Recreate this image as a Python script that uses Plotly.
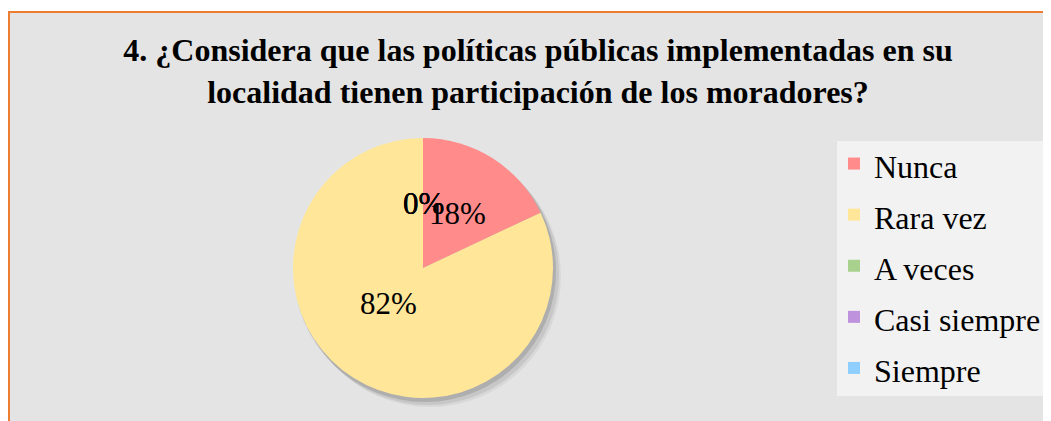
import math
import plotly.graph_objects as go

#===========================================================================================================#

labels = ["Nunca", "Rara vez", "A veces", "Casi siempre", "Siempre"]
values = [18, 82, 0, 0, 0]
colors = ["rgb(255, 139, 139)", "rgb(255, 230, 153)", "rgb(169, 209, 142)",
          "rgb(191, 146, 222)", "rgb(143, 207, 255)"]
title = "4. ¿Considera que las políticas públicas implementadas en su<br>localidad tienen participación de los moradores?"

# the page body has an 8px margin, so positions below are page pixels
W, H = 1043, 413
serif = "'Liberation Serif', 'Times New Roman', serif"

def px2x(p):
    return (p - 8) / W

def px2y(p):
    return 1 - (p - 8) / H

#===========================================================================================================#

cx, cy, r = 423, 268, 130

fig = go.Figure(go.Pie(
    labels=[f"<span style='font-size:32px'>{l}</span>" for l in labels],
    values=values,
    marker=dict(colors=colors, line=dict(width=0)),
    sort=False,
    direction="clockwise",
    rotation=0,
    textinfo="none",
    domain=dict(x=[px2x(cx - r), px2x(cx + r)], y=[px2y(cy + r), px2y(cy - r)]),
    hoverinfo="label+percent",
))

# percentage labels, placed half way out along each slice's middle angle (zero slices too)
total = sum(values)
start = 0
for v in values:
    frac = v / total
    mid = 2 * math.pi * (start + frac / 2)
    start += frac
    fig.add_annotation(x=px2x(cx + 0.5 * r * math.sin(mid)), y=px2y(cy - 0.5 * r * math.cos(mid)),
                       xref="paper", yref="paper", text=f"{round(frac * 100)}%", showarrow=False,
                       font=dict(family=serif, size=31, color="black"))

# background panel with orange border (top and left visible)
fig.add_shape(type="rect", xref="paper", yref="paper",
              x0=px2x(9), x1=px2x(1080), y0=px2y(450), y1=px2y(12),
              fillcolor="rgb(228, 228, 228)", line=dict(color="rgb(237, 125, 49)", width=2),
              layer="below")
# legend panel
fig.add_shape(type="rect", xref="paper", yref="paper",
              x0=px2x(837), x1=px2x(1080), y0=px2y(396), y1=px2y(141),
              fillcolor="rgb(242, 242, 242)", line=dict(width=0), layer="below")
# soft shadow under the pie
for off, op in [(8, 0.05), (6, 0.08), (3, 0.12)]:
    fig.add_shape(type="circle", xref="paper", yref="paper",
                  x0=px2x(cx - r + off - 2), x1=px2x(cx + r + off),
                  y0=px2y(cy + r + off + 1), y1=px2y(cy - r + off),
                  fillcolor=f"rgba(0,0,0,{op})", line=dict(width=0), layer="below")

fig.update_layout(
    width=W, height=H,
    autosize=False,
    margin=dict(l=0, r=0, t=0, b=0),
    paper_bgcolor="white",
    plot_bgcolor="white",
    title=dict(text=title, x=px2x(538), xanchor="center", y=px2y(61), yanchor="middle",
               font=dict(family=serif, size=32, color="black", weight="bold")),
    legend=dict(x=px2x(834), y=px2y(133), xanchor="left", yanchor="top",
                bgcolor="rgba(0,0,0,0)", font=dict(family=serif, size=37, color="black"),
                traceorder="normal"),
    showlegend=True,
)

fig.write_html("out.html")
